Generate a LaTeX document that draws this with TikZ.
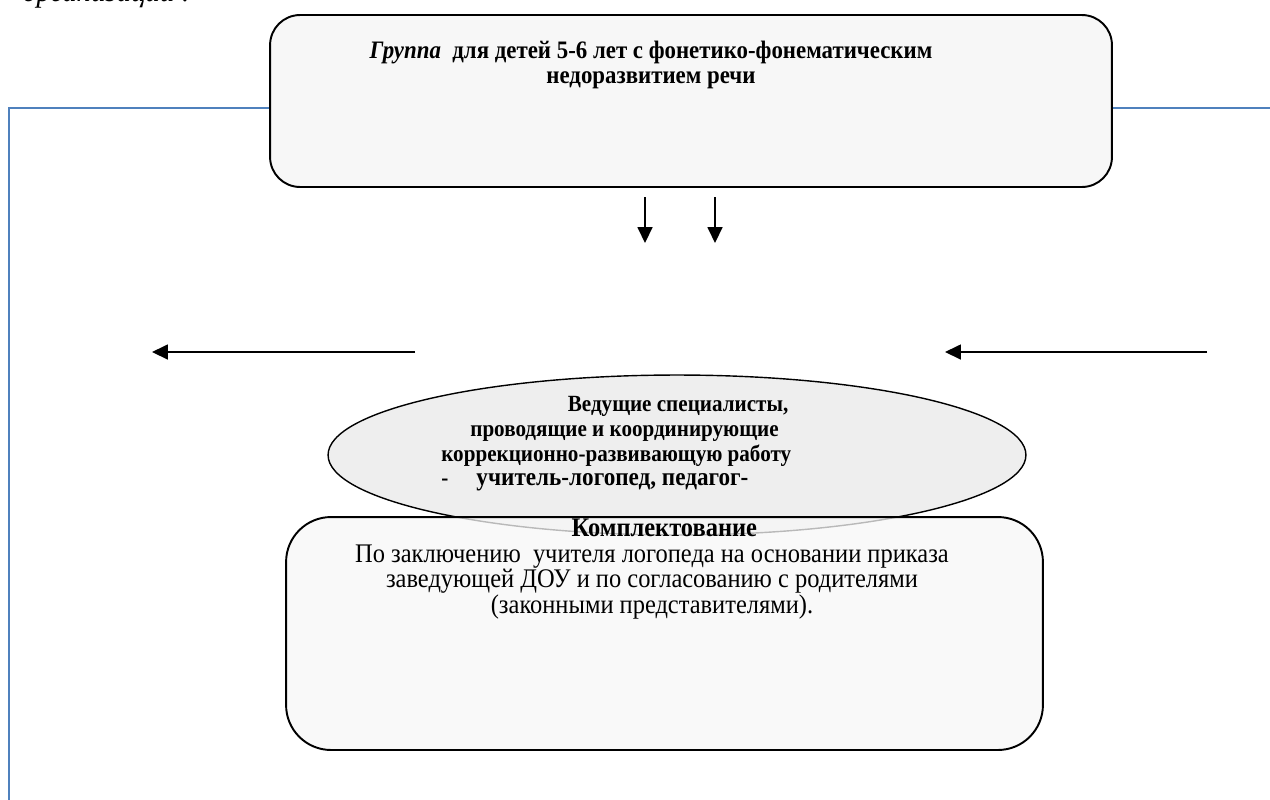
\documentclass[tikz,border=0pt]{standalone}
\usepackage{fontspec}
\setmainfont[FakeStretch=0.91]{Liberation Serif}
\usetikzlibrary{arrows.meta, shapes.geometric, positioning}
\definecolor{lineblue}{HTML}{4F81BD}
\definecolor{boxgray}{HTML}{F7F7F7}
\definecolor{ovalgray}{HTML}{EEEEEE}
\tikzset{
  roundbox/.style={draw=black, line width=1.1pt, fill=boxgray},
  oval/.style={ellipse, draw=black, line width=0.8pt, fill=ovalgray, inner sep=0pt},
  blueline/.style={draw=lineblue, line width=0.9pt},
  arr/.style={line width=0.8pt, -{Triangle[length=9pt,width=8.5pt]}},
  txt/.style={font=\fontsize{13.2}{14}\selectfont, inner sep=0pt}
}

\begin{document}
\begin{tikzpicture}[x=0.02cm, y=-0.02cm]
\useasboundingbox (0,0) rectangle (1270,799);
\clip (0,0) rectangle (1270,799);

% cut-off caption above
\node[txt, anchor=base west, font=\fontsize{18}{18}\selectfont\itshape] (cap) at (22,1) {организации :};

% group box
\node[roundbox, rounded corners=0.6cm, minimum width=16.84cm, minimum height=3.44cm] (grp) at (691,101) {};
\node[txt, align=center, font=\fontsize{14.3}{14.2}\selectfont\bfseries] (grptext) at (651,65)
  {\textit{Группа}\ \ для детей 5-6 лет с фонетико-фонематическим\\недоразвитием речи};

% blue lines
\coordinate (lcorner) at (9,108);
\coordinate (lbottom) at (9,805);
\coordinate (rend) at (1275,108);
\draw[blueline] (grp.west |- lcorner) -- (lcorner) -- (lbottom);
\draw[blueline] (grp.east |- rend) -- (rend);

% arrows
\coordinate (d1a) at (645,197);
\coordinate (d1b) at (645,243);
\coordinate (d2a) at (715,197);
\coordinate (d2b) at (715,243);
\coordinate (l1a) at (415,352);
\coordinate (l1b) at (152,352);
\coordinate (l2a) at (1207,352);
\coordinate (l2b) at (945,352);
\draw[arr] (d1a) -- (d1b);
\draw[arr] (d2a) -- (d2b);
\draw[arr] (l1a) -- (l1b);
\draw[arr] (l2a) -- (l2b);

% specialists oval
\node[oval, minimum width=13.96cm, minimum height=3.2cm] (lead) at (677,455) {};

% staffing box
\node[roundbox, rounded corners=0.9cm, minimum width=15.14cm, minimum height=4.66cm, fill opacity=0.75] (staff) at (664.5,633.5) {};

\node[txt, anchor=west, align=left, font=\fontsize{13.2}{14}\selectfont\bfseries] (leadtext) at (441,444)
  {\hspace*{72pt}Ведущие специалисты,\\
   \hspace*{16.5pt}проводящие и координирующие\\
   коррекционно-развивающую работу\\
   -\hspace*{16pt}{\fontsize{14.5}{14}\selectfont учитель-логопед, педагог-}};

\node[txt, align=center, font=\fontsize{15.3}{14.6}\selectfont] (stafftext) at (652,569)
  {\hspace*{14pt}\textbf{Комплектование}\\
   По заключению\ \ учителя логопеда на основании приказа\\
   заведующей ДОУ и по согласованию с родителями\\
   (законными представителями).};
\end{tikzpicture}
\end{document}
